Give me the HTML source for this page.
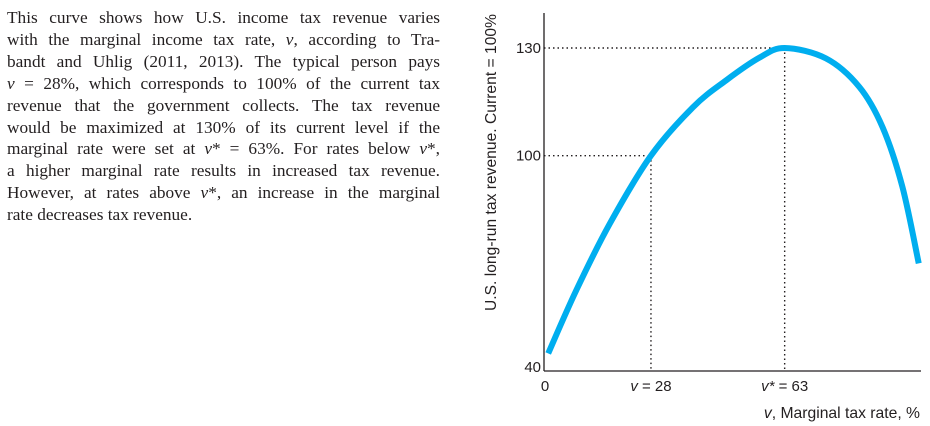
<!DOCTYPE html>
<html><head><meta charset="utf-8"><style>
body{margin:0;width:930px;height:426px;background:#fff;overflow:hidden;position:relative}
#caption{position:absolute;left:7px;top:7px;width:433px;font-family:"Liberation Serif",serif;font-size:17.3px;line-height:21.9px;color:#231f20}
#caption div{text-align:justify;text-align-last:justify;white-space:nowrap}
#caption div.last{text-align-last:left}
svg{position:absolute;left:0;top:0}
</style></head><body>
<div id="caption">
<div>This curve shows how U.S. income tax revenue varies</div>
<div>with the marginal income tax rate, <i>v</i>, according to Tra-</div>
<div>bandt and Uhlig (2011, 2013). The typical person pays</div>
<div><i>v</i> = 28%, which corresponds to 100% of the current tax</div>
<div>revenue that the government collects. The tax revenue</div>
<div>would be maximized at 130% of its current level if the</div>
<div>marginal rate were set at <i>v</i>* = 63%. For rates below <i>v</i>*,</div>
<div>a higher marginal rate results in increased tax revenue.</div>
<div>However, at rates above <i>v</i>*, an increase in the marginal</div>
<div class="last">rate decreases tax revenue.</div>
</div>
<svg id="chart" width="930" height="426"></svg>
<script>
const rates=[1.1,8.5,17.2,28,39,47.7,56.4,63,73.8,82.5,88.6,93.8,98.1];
const revenue=[44.9,62.6,81,100,113.5,121,127.3,130,127.1,119.2,108,91.4,70];
const yTicks=[40,100,130];
const guides=[{v:28,r:100},{v:63,r:130}];
const xLabels=[{v:0,t:"0"},{v:28,t:"v = 28"},{v:63,t:"v* = 63"}];
const NS="http://www.w3.org/2000/svg";
const svg=document.getElementById('chart');
const X0=544,XS=3.82,Y0=371,YS=3.589;
const xs=v=>X0+v*XS, ys=r=>Y0-(r-40)*YS;
function mk(tag,attrs,parent){const e=document.createElementNS(NS,tag);for(const k in attrs)e.setAttribute(k,attrs[k]);(parent||svg).appendChild(e);return e;}
const F='"Liberation Sans",sans-serif';
guides.forEach(g=>{
 const h=mk('line',{x1:X0,y1:ys(g.r),x2:xs(g.v),y2:ys(g.r),stroke:'#231f20','stroke-width':1.4,'stroke-dasharray':'1.5 3'});
 
 
 const v=mk('line',{x1:xs(g.v),y1:ys(g.r),x2:xs(g.v),y2:Y0,stroke:'#231f20','stroke-width':1.4,'stroke-dasharray':'1.5 3'});
 
 
});
const pts=rates.map((v,i)=>[xs(v),ys(revenue[i])]);
let d='M'+pts[0][0]+','+pts[0][1];
for(let i=0;i<pts.length-1;i++){const p0=pts[Math.max(0,i-1)],p1=pts[i],p2=pts[i+1],p3=pts[Math.min(pts.length-1,i+2)];
 d+=`C${p1[0]+(p2[0]-p0[0])/6},${p1[1]+(p2[1]-p0[1])/6} ${p2[0]-(p3[0]-p1[0])/6},${p2[1]-(p3[1]-p1[1])/6} ${p2[0]},${p2[1]}`;}
const c=mk('path',{d:d,fill:'none',stroke:'#00aeef','stroke-width':6});


const ya=mk('line',{x1:X0,y1:13,x2:X0,y2:Y0,stroke:'#231f20','stroke-width':1.3});


const xa=mk('line',{x1:X0,y1:Y0,x2:921,y2:Y0,stroke:'#231f20','stroke-width':1.3});


yTicks.forEach(t=>{const e=mk('text',{x:X0-3,y:ys(t)+(t==40?1:5),'text-anchor':'end','font-family':F,'font-size':15,fill:'#231f20'});e.textContent=t;
 
 });
xLabels.forEach(l=>{const e=mk('text',{x:xs(l.v)+(l.v==0?1:0),y:391,'text-anchor':'middle','font-family':F,'font-size':15,fill:'#231f20'});
 if(l.v==0)e.textContent=l.t;else{const parts=l.t.split(' = ');const ts=mk('tspan',{'font-style':'italic'},e);ts.textContent=parts[0];e.appendChild(document.createTextNode(' = '+parts[1]));}
 
 });
const xt=mk('text',{x:920,y:418,'text-anchor':'end','font-family':F,'font-size':15.7,fill:'#231f20'});
const xi=mk('tspan',{'font-style':'italic'},xt);xi.textContent='v';xt.appendChild(document.createTextNode(', Marginal tax rate, %'));


const yt=mk('text',{x:0,y:0,transform:'translate(496,311) rotate(-90)','font-family':F,'font-size':15.6,fill:'#231f20','textLength':297});
yt.textContent='U.S. long-run tax revenue. Current = 100%';


</script>
</body></html>
